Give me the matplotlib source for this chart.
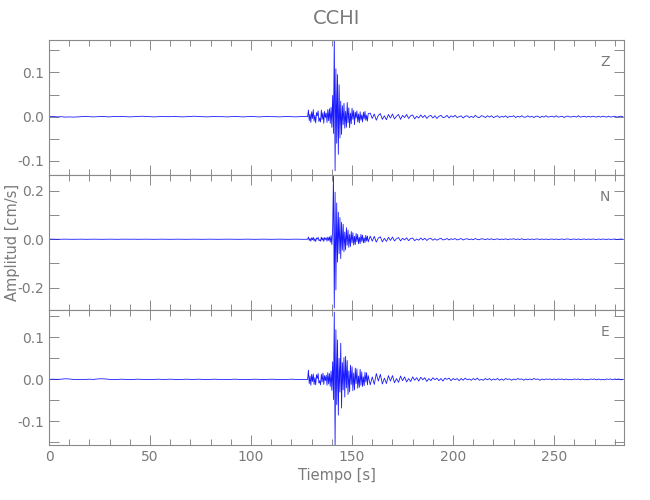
import numpy as np
import matplotlib
matplotlib.use("Agg")
import matplotlib.pyplot as plt
from matplotlib.ticker import MultipleLocator, FuncFormatter

# ---------------- data (amplitudes in units of 0.001 cm/s) ----------------
title = "CCHI"
components = ["Z", "N", "E"]

# sampling grids (s)
t_pre = np.arange(0, 128, 2.0)            # 0 .. 126 s
t_event = 128.0 + 0.4 * np.arange(76)     # 128 .. 158 s
t_coda = np.arange(159, 285, 1.0)         # 159 .. 284 s

z_pre = [0, 0.5, -0.5, 0, -1, -0.5, -1, -0.5, 0, 0.5,
         0, -0.5, 0, 0.5, 0, -0.5, 0.5, 0, 0.5, 0,
         -0.5, 0, 0.5, 1, 0.5, 0, -0.5, 0, 0.5, 0,
         0, 0.5, 0, -0.5, 0, 0.5, 1, 0.5, 0, -0.5,
         0, 0.5, 0, 0, -0.5, 0, 0.5, 0, -0.5, 0,
         0.5, 0, -0.5, 0, 0.5, 0, 0, -0.5, 0, 0.5,
         0, -0.5, 0, 0.5]
z_event = [0, 15, -9, 6, -13, 11, -4, 16, -10, 3,
           -14, 9, 2, 13, -11, -3, -12, 15, -6, 9,
           -15, 12, -2, 8, -13, 16, -9, 18, -15, 21,
           -24, 48, -38, 180, -122, 108, -60, 95, -85, 72,
           -48, 35, -40, 25, -18, 30, -26, 12, -24, 32,
           -14, 20, -25, 8, -16, 19, -6, 14, -18, 10,
           -3, 13, -12, 6, -14, 11, -8, 4, -12, 10,
           -5, 12, -8, 3, -10, 7]
z_coda = [8, -4, 6, -8, 3, 7, -6, 2, -7, 5,
          -3, 6, -5, 1, 5, -6, 3, -2, 5, -4,
          2, 4, -5, 1, -3, 4, -2, 3, -4, 1,
          3, -3, 2, -4, 1, 3, -2, -1, 3, -3,
          2, -1, 3, -2, 0, 2, -3, 1, 2, -2,
          1, -2, 3, -1, -2, 2, 1, -2, 2, -1,
          2, -2, 0, 2, -2, 1, -1, 2, -2, 1,
          0, 2, -2, 1, -1, 2, -1, -1, 2, -1,
          1, -2, 1, 1, -2, 1, -1, 2, -1, 0,
          1, -1, 2, -1, 0, 1, -2, 1, 1, -1,
          0, 1, -1, 2, -1, 0, 1, -1, 1, -1,
          1, 0, -1, 1, -1, 1, 0, -1, 1, -1,
          0, 1, -1, 0, 1, 0]

n_pre = [0, 0.3, -0.3, 0, 0.3, 0, -0.3, 0, 0.3, -0.3,
         0, 0.3, 0, -0.3, 0, 0.3, 0, -0.3, 0.3, 0,
         0, 0.3, -0.3, 0, 0.3, 0, -0.3, 0, 0.3, 0,
         -0.3, 0, 0.3, 0, -0.3, 0, 0.3, 0, -0.3, 0,
         0.3, 0, -0.3, 0, 0.3, 0, 0, -0.3, 0, 0.3,
         0, -0.3, 0, 0.3, 0, -0.3, 0, 0.3, 0, -0.3,
         0, 0.3, 0, -0.3]
n_event = [0, 9, -5, 3, -8, 6, -2, 8, -7, 2,
           -9, 5, 1, 8, -6, -2, -8, 9, -4, 6,
           -9, 7, -1, 6, -8, 9, -5, 10, -12, 15,
           -22, 42, 268, -285, 195, -210, 150, -95, 112, -60,
           90, -80, 70, -45, 62, -52, 30, -44, 48, -25,
           38, -34, 20, -30, 32, -15, 27, -24, 12, -22,
           24, -10, 20, -19, 8, -18, 20, -9, 17, -15,
           6, -14, 16, -7, 13, -11]
n_coda = [13, -8, 12, -12, 5, 10, -11, 4, -9, 8,
          -5, 9, -7, 2, 7, -7, 4, -3, 6, -6,
          3, 5, -6, 1, -4, 5, -3, 4, -5, 2,
          3, -4, 2, -4, 1, 4, -3, -1, 3, -3,
          2, -1, 3, -3, 0, 3, -3, 1, 2, -2,
          1, -2, 3, -1, -2, 2, 1, -2, 2, -1,
          2, -2, 0, 2, -2, 1, -1, 2, -2, 1,
          0, 2, -1, 1, -1, 2, -1, -1, 1, -1,
          1, -1, 1, 1, -1, 1, -1, 1, -1, 0,
          1, -1, 1, -1, 0, 1, -1, 1, 1, -1,
          0, 1, -1, 1, -1, 0, 1, -1, 1, -1,
          1, 0, -1, 1, -1, 1, 0, -1, 1, -1,
          0, 1, -1, 0, 1, 0]

e_pre = [0, 0.5, 0, 0.5, 1.5, 1, 0, -0.5, 0, 0,
         0.5, 0, 1, 1.5, 1, 0, -0.5, 0, 0.5, 0,
         -0.5, 0, 0.5, 0, 0, -0.5, 0, 0.5, 0, 0,
         0.5, 0, -0.5, 0, 0.5, 0, 0, 0.5, 0, -0.5,
         0, 0.5, 0, 0, -0.5, 0, 0.5, 0, 0, -0.5,
         0, 0.5, 0, -0.5, 0, 0.5, 0, 0, -0.5, 0,
         0.5, 0, -0.5, 0]
e_event = [0, 22, -10, 8, -14, 12, -5, 13, -12, 4,
           -13, 11, 2, 14, -9, -3, -13, 12, -6, 15,
           -12, 9, -3, 10, -14, 16, -11, 14, -17, 20,
           -26, 42, -48, 160, -160, 118, -60, 94, -85, 50,
           -30, 86, -68, 40, -25, 52, -42, 55, -20, 45,
           -36, 20, -30, 34, -12, 30, -27, 15, -25, 27,
           -10, 25, -21, 8, -19, 24, -14, 18, -17, 6,
           -15, 17, -6, 16, -13, 9]
e_coda = [-13, 6, -12, 14, -4, 12, -11, 3, -10, 9,
          -4, 9, -8, 2, -7, 8, -3, 6, -6, 2,
          -5, 6, -2, 4, -4, 5, -1, 4, -5, 2,
          -3, 4, -1, 3, -3, 2, -4, 3, 0, 3,
          -3, 2, -1, 2, -3, 2, -2, 3, -1, 1,
          -2, 2, -1, 3, -2, 0, -2, 2, -1, 2,
          -2, 1, -1, 2, -2, 1, -2, 2, 0, 1,
          -2, 1, -1, 2, 0, 1, -2, 1, -1, 1,
          -1, 2, 0, 1, -2, 1, -1, 1, 0, 1,
          -1, 1, -1, 1, 0, 1, -1, 1, -1, 0,
          -1, 1, 0, 1, -1, 1, -1, 0, -1, 1,
          0, 1, -1, 1, -1, 0, -1, 1, 0, 1,
          -1, 1, 0, 1, -1, 0]

y_limits = [(-0.1316, 0.173), (-0.293, 0.266), (-0.156, 0.165)]
y_label_steps = [0.1, 0.2, 0.1]
x_max = 284.6

# ---------------- plotting ----------------
gray = "#8a8a8a"
txt = "#7a7a7a"
plt.rcParams["font.family"] = ["Liberation Sans Narrow", "DejaVu Sans"]
plt.rcParams["axes.unicode_minus"] = False

fig = plt.figure(figsize=(6.5, 5.0), dpi=100)
left, right = 49 / 650, 624 / 650
top_px, bot_px = 40, 445
h = (bot_px - top_px) / 3 / 500

traces = [(z_pre, z_event, z_coda), (n_pre, n_event, n_coda), (e_pre, e_event, e_coda)]
t_all = np.concatenate([t_pre, t_event, t_coda])

fmt = FuncFormatter(lambda v, p: "%.1f" % (round(v, 3) + 0.0))

axes = []
for k, (comp, tr) in enumerate(zip(components, traces)):
    bottom = 1 - (top_px / 500) - (k + 1) * h
    ax = fig.add_axes([left, bottom, right - left, h])
    axes.append(ax)
    y = np.concatenate([tr[0], tr[1], tr[2]]) / 1000.0
    ax.plot(t_all, y, color="#0000ff", lw=0.6, alpha=0.9)
    ax.set_xlim(0, x_max)
    ax.set_ylim(*y_limits[k])
    for sp in ax.spines.values():
        sp.set_color(gray)
        sp.set_linewidth(0.8)
    ax.xaxis.set_major_locator(MultipleLocator(50))
    ax.xaxis.set_minor_locator(MultipleLocator(10))
    step = y_label_steps[k]
    ax.yaxis.set_major_locator(MultipleLocator(step))
    ax.yaxis.set_minor_locator(MultipleLocator(step / 2))
    ax.yaxis.set_major_formatter(fmt)
    ax.tick_params(axis="both", which="both", direction="in", colors=gray,
                   labelcolor=txt, labelsize=10, top=True, right=True, width=0.7)
    ax.tick_params(axis="x", which="major", length=7)
    ax.tick_params(axis="x", which="minor", length=4.5)
    ax.tick_params(axis="y", which="both", length=7)
    if k < 2:
        ax.tick_params(axis="x", labelbottom=False)
    ax.text(0.967, 0.84, comp, transform=ax.transAxes, color=txt,
            fontsize=10, ha="center", va="center")

fig.text((left + right) / 2, 1 - 18 / 500, title, ha="center", va="center",
         color=txt, fontsize=14)
axes[2].set_xlabel("Tiempo [s]", color=txt, fontsize=10.5, labelpad=3)
fig.text(12 / 650, 1 - 242 / 500, "Amplitud [cm/s]", rotation=90, ha="center",
         va="center", color=txt, fontsize=10.5)

fig.savefig("out.png", dpi=100)
